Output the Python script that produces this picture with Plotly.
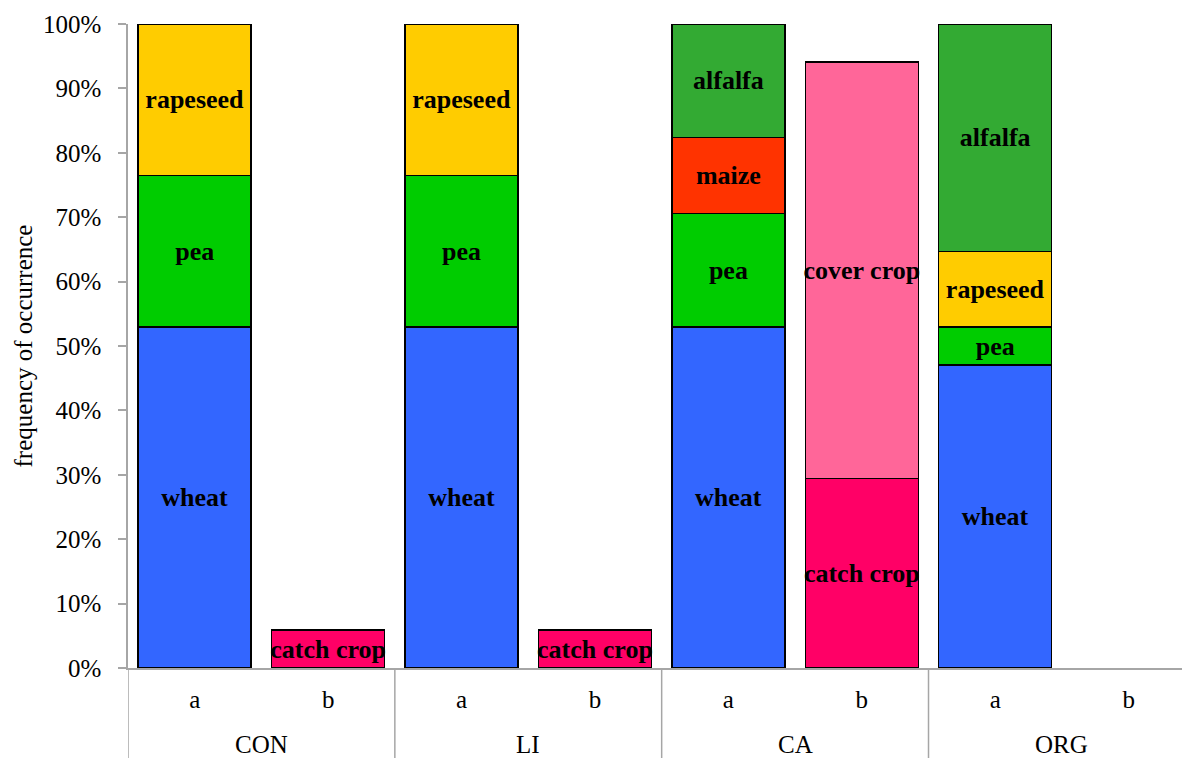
import plotly.graph_objects as go

groups = ["CON", "CON", "LI", "LI", "CA", "CA", "ORG", "ORG"]
subs = ["a", "b", "a", "b", "a", "b", "a", "b"]
group_names = ["CON", "LI", "CA", "ORG"]

crops = ["wheat", "pea", "maize", "rapeseed", "alfalfa", "catch crop", "cover crop"]
colors = {
    "wheat": "#3366FF",
    "pea": "#00CC00",
    "maize": "#FF3300",
    "rapeseed": "#FFCC00",
    "alfalfa": "#33AA33",
    "catch crop": "#FF0066",
    "cover crop": "#FF6699",
}
# values in percent, per slot (CON a, CON b, LI a, LI b, CA a, CA b, ORG a, ORG b)
wheat = [52.94, None, 52.94, None, 52.94, None, 47.06, None]
pea = [23.53, None, 23.53, None, 17.65, None, 5.88, None]
maize = [None, None, None, None, 11.76, None, None, None]
rapeseed = [23.53, None, 23.53, None, None, None, 11.76, None]
alfalfa = [None, None, None, None, 17.65, None, 35.29, None]
catch_crop = [None, 5.88, None, 5.88, None, 29.41, None, None]
cover_crop = [None, None, None, None, None, 64.71, None, None]

series = {
    "wheat": wheat, "pea": pea, "maize": maize, "rapeseed": rapeseed,
    "alfalfa": alfalfa, "catch crop": catch_crop, "cover crop": cover_crop,
}

FONT = "Liberation Serif, Times New Roman, serif"
AXIS_GREY = "#A6A6A6"

slots = [f"{g} {s}" for g, s in zip(groups, subs)]

fig = go.Figure()
for crop in crops:
    vals = series[crop]
    xs, ys = [], []
    for slot, v in zip(slots, vals):
        if v is not None:
            xs.append(slot); ys.append(v)
    fig.add_trace(go.Bar(
        x=xs, y=ys, name=crop,
        marker=dict(color=colors[crop], line=dict(color="black", width=1.5)),
        text=[crop] * len(ys), textposition="inside", insidetextanchor="middle",
        textangle=0, constraintext="none", cliponaxis=False,
        textfont=dict(family=FONT, size=26, color="black", weight="bold"),
        hoverinfo="skip",
    ))

# group labels and dividers of the two-level category axis
n_slots = len(slots)
for gi, g in enumerate(group_names):
    idx = [i for i, gg in enumerate(groups) if gg == g]
    fig.add_annotation(
        x=sum(idx) / len(idx), xref="x", y=-0.119, yref="paper",
        text=g, showarrow=False, yanchor="middle",
        font=dict(family=FONT, size=25, color="black"),
    )
bounds = [-0.5] + [i + 0.5 for i in range(n_slots - 1) if groups[i] != groups[i + 1]]
for b in bounds:
    fig.add_shape(
        type="line", xref="x", yref="paper", x0=b, x1=b, y0=0, y1=-0.14,
        line=dict(color=AXIS_GREY, width=1.5), layer="below",
    )

fig.update_layout(
    barmode="stack", bargap=0.153,
    width=1182, height=758,
    margin=dict(l=128, r=0, t=24, b=90),
    plot_bgcolor="white", paper_bgcolor="white",
    showlegend=False,
    font=dict(family=FONT, size=25, color="black"),
)
fig.update_xaxes(
    type="category", categoryorder="array", categoryarray=slots,
    range=[-0.5, 7.40],
    tickvals=slots, ticktext=subs,
    showline=True, linecolor=AXIS_GREY, linewidth=1.5,
    showgrid=False, ticks="", ticklabelstandoff=8,
    tickfont=dict(family=FONT, size=25, color="black"),
    automargin=False,
)
fig.update_yaxes(
    range=[0, 100], dtick=10, ticksuffix="%",
    showline=True, linecolor=AXIS_GREY, linewidth=1.5,
    ticks="outside", tickcolor=AXIS_GREY, ticklen=8, tickwidth=1.5,
    ticklabelstandoff=12,
    showgrid=False, zeroline=False,
    tickfont=dict(family=FONT, size=25, color="black"),
    title=dict(text="frequency of occurrence", font=dict(family=FONT, size=25, color="black"), standoff=3),
    automargin=False,
)

fig.write_html("out.html", config={"displayModeBar": False},
               post_script="document.body.style.margin='0px';")
